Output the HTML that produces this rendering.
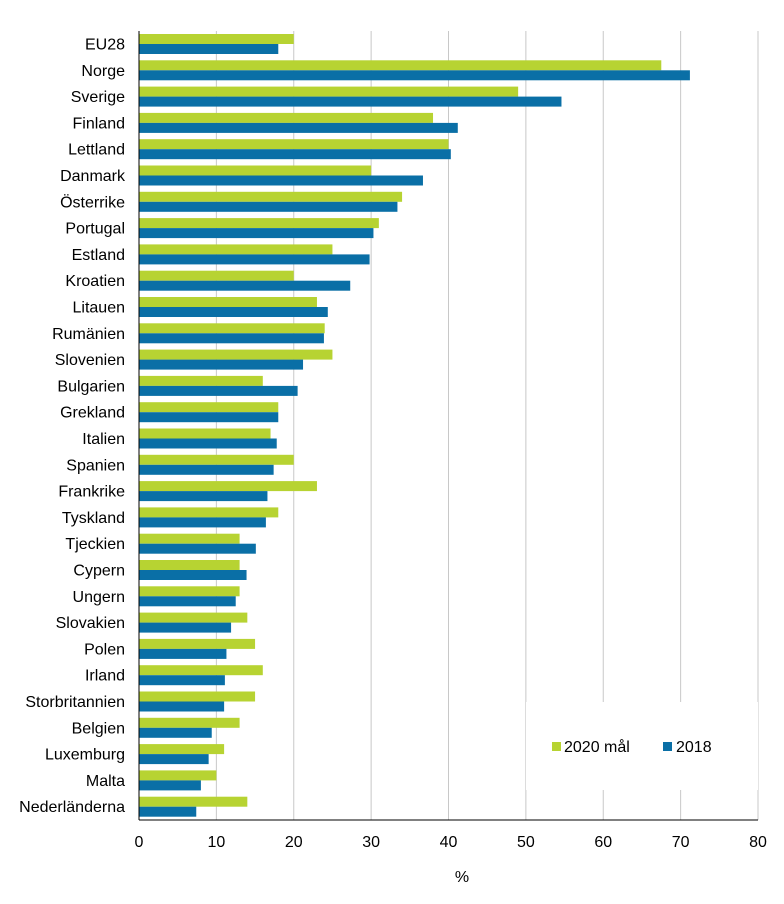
<!DOCTYPE html>
<html><head><meta charset="utf-8"><style>
body{margin:0;background:#fff;font-family:"Liberation Sans",sans-serif;}
svg text{font-family:"Liberation Sans",sans-serif;font-size:16px;fill:#000;}
</style></head><body>
<svg id="chart" width="784" height="899" xmlns="http://www.w3.org/2000/svg"></svg>
<script>
const categories=["EU28","Norge","Sverige","Finland","Lettland","Danmark","Österrike","Portugal","Estland","Kroatien","Litauen","Rumänien","Slovenien","Bulgarien","Grekland","Italien","Spanien","Frankrike","Tyskland","Tjeckien","Cypern","Ungern","Slovakien","Polen","Irland","Storbritannien","Belgien","Luxemburg","Malta","Nederländerna"];
const target2020=[20,67.5,49,38,40,30,34,31,25,20,23,24,25,16,18,17,20,23,18,13,13,13,14,15,16,15,13,11,10,14];
const values2018=[18,71.2,54.6,41.2,40.3,36.7,33.4,30.3,29.8,27.3,24.4,23.9,21.2,20.5,18,17.8,17.4,16.6,16.4,15.1,13.9,12.5,11.9,11.3,11.1,11,9.4,9,8,7.4];
const xTicks=[0,10,20,30,40,50,60,70,80];
const NS="http://www.w3.org/2000/svg";
const svg=document.getElementById("chart");
const x0=139,x1=758,plotTop=31,plotBottom=820;
const xScale=v=>x0+(v/80)*(x1-x0);
const band=(plotBottom-plotTop)/categories.length;
const yScale=i=>plotTop+i*band;
function el(t,a){const e=document.createElementNS(NS,t);for(const k in a)e.setAttribute(k,a[k]);svg.appendChild(e);return e;}
xTicks.forEach(t=>{
  if(t>0){const g=el("line",{x1:xScale(t),x2:xScale(t),y1:plotTop,y2:plotBottom,stroke:"#c8c8c8","stroke-width":1});
  
  }
  const tx=el("text",{x:xScale(t),y:plotBottom+27,"text-anchor":"middle"});tx.textContent=t;
  
  
});
categories.forEach((c,i)=>{
  const y=yScale(i);
  const g=el("rect",{x:x0,y:y+3,width:xScale(target2020[i])-x0,height:10,fill:"#b7d332"});
  
  
  const b=el("rect",{x:x0,y:y+13,width:xScale(values2018[i])-x0,height:10,fill:"#0a6fa6"});
  
  
  const t=el("text",{x:x0-14,y:y+18.5,"text-anchor":"end"});t.textContent=c;
  
  
});
const ax=el("line",{x1:x0,x2:x0,y1:plotTop,y2:plotBottom,stroke:"#000","stroke-width":1});


const xa=el("line",{x1:x0,x2:x1,y1:plotBottom,y2:plotBottom,stroke:"#000","stroke-width":1});


const xt=el("text",{x:462,y:882,"text-anchor":"middle"});xt.textContent="%";


const lb=el("rect",{x:526,y:702,width:232,height:88,fill:"#fff"});


const l1=el("rect",{x:552,y:742,width:9,height:9,fill:"#b7d332"});


const lt1=el("text",{x:564,y:752});lt1.textContent="2020 mål";


const l2=el("rect",{x:663,y:742,width:9,height:9,fill:"#0a6fa6"});


const lt2=el("text",{x:676,y:752});lt2.textContent="2018";


</script>
</body></html>
